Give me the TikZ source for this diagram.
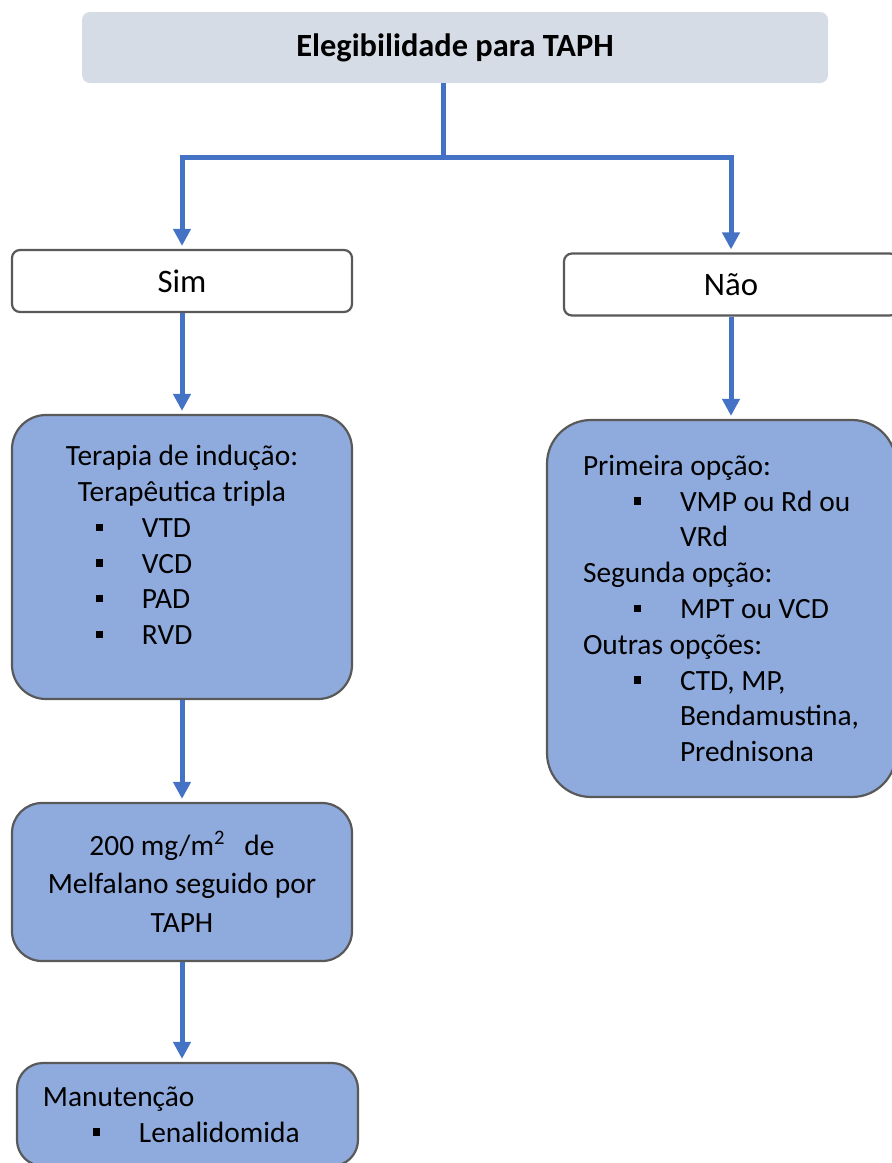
\documentclass[tikz,border=0pt]{standalone}
\usepackage{fontspec}
\setmainfont{Carlito}
\usepackage{xcolor}
\usetikzlibrary{arrows.meta,positioning}

\definecolor{headgray}{HTML}{D6DCE5}
\definecolor{planblue}{HTML}{8FAADC}
\definecolor{edgegray}{HTML}{595959}
\definecolor{linkblue}{HTML}{4472C4}

\newcommand{\bul}{\rule[3.3pt]{3.6pt}{3.6pt}}
\newcommand{\bitem}[2]{\makebox[170pt][l]{\hspace*{#1}\bul\hspace*{19.4pt}#2}}
\newcommand{\bcont}[2]{\hspace*{\dimexpr#1+23pt\relax}#2}

\begin{document}
\begin{tikzpicture}[x=0.5pt,y=-0.5pt,
  every node/.style={font=\fontsize{14.7pt}{17.9pt}\selectfont},
  link/.style={draw=linkblue,line width=2.5pt},
  arrowlink/.style={link,-{Triangle[length=8.5pt,width=8.5pt]},shorten >=1.5pt}]
  \tikzstyle{headbox}=[fill=headgray,rounded corners=4pt,minimum width=373pt,minimum height=35.5pt,
    font=\fontsize{16.2pt}{19pt}\selectfont\bfseries]
  \tikzstyle{choicebox}=[draw=edgegray,line width=1.1pt,fill=white,rounded corners=4pt,minimum height=31pt,
    font=\fontsize{16.4pt}{19pt}\selectfont]
  \tikzstyle{planbox}=[draw=edgegray,line width=1.1pt,fill=planblue,inner xsep=0pt]
  \useasboundingbox (0,0) rectangle (892,1163);
  \clip (0,0) rectangle (892,1163);

  \node[headbox] (elig) at (455,47.5) {Elegibilidade para TAPH};
  \node[choicebox,minimum width=170pt] (sim) at (182,281) {Sim};
  \node[choicebox,minimum width=167pt] (nao) at (731,284.5) {Não};

  \node[planbox,rounded corners=17pt,minimum width=170pt,minimum height=142pt,align=center] (indu) at (182,557)
    {Terapia de indução:\\ Terapêutica tripla\\
     \bitem{42pt}{VTD}\\ \bitem{42pt}{VCD}\\ \bitem{42pt}{PAD}\\
     \bitem{42pt}{RVD\rule[-12pt]{0pt}{12pt}}};
  \node[planbox,rounded corners=22pt,text width=174.5pt,minimum height=188.5pt,align=flush left] (opcoes) at (721.5,608.5)
    {\hspace*{18pt}Primeira opção:\\ \bitem{43.5pt}{VMP ou Rd ou}\\ \bcont{43.5pt}{VRd}\\
     \hspace*{18pt}Segunda opção:\\ \bitem{43.5pt}{MPT ou VCD}\\
     \hspace*{18pt}Outras opções:\\ \bitem{43.5pt}{CTD, MP,}\\
     \bcont{43.5pt}{Bendamustina,}\\ \bcont{43.5pt}{Prednisona}};
  \node[planbox,rounded corners=15pt,minimum width=170pt,minimum height=79pt,align=center] (melf) at (182,882)
    {200 mg/m\textsuperscript{2}\hspace{9.5pt}de\\[1.5pt] Melfalano seguido por\\[1.5pt] TAPH};
  \node[planbox,rounded corners=13pt,text width=170.5pt,minimum height=51.5pt,align=flush left] (manut) at (187.5,1114.5)
    {\hspace*{13pt}Manutenção\\ \bitem{38pt}{Lenalidomida}};

  % ramificacao
  \coordinate (ramo) at (443,157);
  \draw[link] (elig.south -| ramo) -- (ramo);
  \draw[arrowlink] (ramo) -| (sim.north);
  \draw[arrowlink] (ramo) -| (nao.north);
  \draw[arrowlink] (sim) -- (indu);
  \draw[arrowlink] (nao.south) -- (nao.south |- opcoes.north);
  \draw[arrowlink] (indu) -- (melf);
  \draw[arrowlink] (melf.south) -- (melf.south |- manut.north);
\end{tikzpicture}
\end{document}
